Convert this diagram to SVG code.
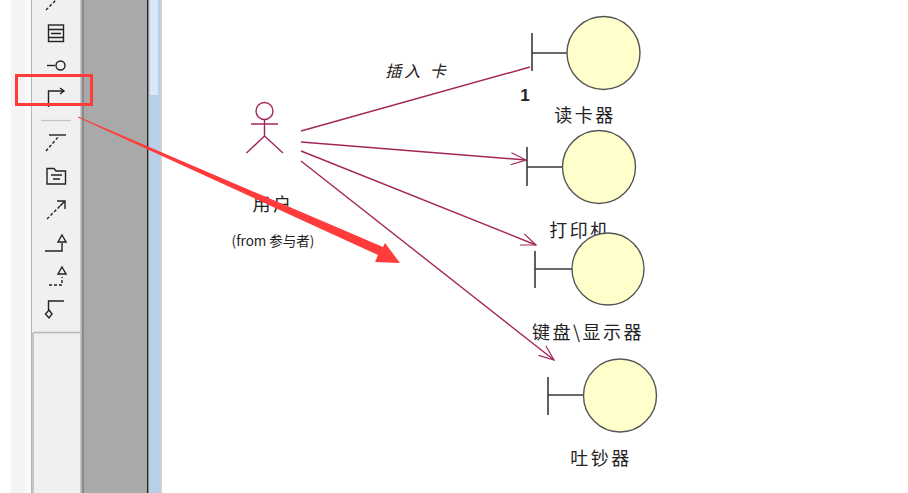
<svg xmlns="http://www.w3.org/2000/svg" width="908" height="493" viewBox="0 0 908 493">
<defs>
<marker id="open" markerWidth="18" markerHeight="14" refX="16" refY="7" orient="auto" markerUnits="userSpaceOnUse"><path d="M1 1 L16 7 L1 13" fill="none" stroke="#a3265a" stroke-width="1.200"/></marker>
</defs>
<style>
.ic{fill:none;stroke:#222;stroke-width:1.400}
.dash{stroke-dasharray:3 2}
.rel{fill:none;stroke:#a3265a;stroke-width:1.400}
.bar{fill:none;stroke:#3a3a3a;stroke-width:1.600}
.ball{fill:#ffffcc;stroke:#555;stroke-width:1.400}
.t{font-family:"Noto Sans CJK SC","Liberation Sans",sans-serif;font-size:18px;fill:#222;letter-spacing:2.500px;text-anchor:middle}
</style>
<rect width="908" height="493" fill="#fff"/>
<g id="window-chrome">
<rect x="11" y="0" width="20" height="493" fill="#f4f4f4"/>
<rect x="25" y="0" width="6" height="493" fill="#fafafa"/>
<rect x="31" y="0" width="50" height="493" fill="#f0f0f0"/>
<path d="M31.500 0V493" stroke="#b5b5b5" fill="none"/>
<rect x="80" y="0" width="1.500" height="493" fill="#c8c8c8"/>
<rect x="81.500" y="0" width="2.500" height="493" fill="#8a8a8a"/>
<rect x="84" y="0" width="63" height="493" fill="#a9a9a9"/>
<rect x="147" y="0" width="1.500" height="493" fill="#222"/>
<rect x="149" y="0" width="11" height="493" fill="#b8cfe8"/>
<rect x="150" y="0" width="8" height="95" fill="#dbe7f4"/>
<rect x="160" y="0" width="2" height="493" fill="#d0d0d0"/>
<path d="M33 332.500H81M33 333V493" stroke="#b5b5b5" stroke-width="1.500" fill="none"/>
<path d="M41 120.500H71" stroke="#c4c4c4" stroke-width="1.200" fill="none"/>
</g>
<g id="toolbar-icons">
<path class="ic dash" d="M46 10L56 0"/>
<rect class="ic" x="48.500" y="25" width="15" height="16.500"/>
<path class="ic" d="M49 29.500H63M51 33.500H61M49 37.500H63" stroke-width="1"/>
<path class="ic" d="M47 65.500H55"/><circle class="ic" cx="60.500" cy="65.500" r="4.500"/>
<path class="ic" d="M48.500 107V91H64M60 88L64 91L60 94"/>
<path class="ic" d="M49 135H66"/><path class="ic dash" d="M46 151L59 136"/>
<path class="ic" d="M47 168.500H54L56 171H65.500V184H47Z"/><path class="ic" d="M51 175H62M53 179H60" stroke-width="1"/>
<path class="ic dash" d="M47 219L62 204"/><path class="ic" d="M57 201H65V209M65 201L60 206"/>
<path class="ic" d="M45 251H62V243"/><path class="ic" d="M62 235L66 242H58Z"/>
<path class="ic dash" d="M49 285H62V277"/><path class="ic" d="M62 267L66 274H58Z"/>
<path class="ic" d="M64 301H48.500V310"/><path class="ic" d="M49 310L52 314L49 318L45.500 314Z"/>
</g>
<g id="connectors">
<path class="rel" d="M301 131L530 67"/>
<path class="rel" marker-end="url(#open)" d="M301 142L526 160"/>
<path class="rel" marker-end="url(#open)" d="M301 151L536 245"/>
<path class="rel" marker-end="url(#open)" d="M301 161L554 360"/>
<text x="417" y="77" class="t" style="font-size:16px;font-style:italic;letter-spacing:3px">插入 卡</text>
<text x="525" y="101" style="font-family:'Liberation Sans',sans-serif;font-size:17px;font-weight:bold;fill:#222;text-anchor:middle">1</text>
</g>
<g id="actor-user">
<circle cx="264.500" cy="111" r="8.500" fill="none" stroke="#a3265a" stroke-width="1.400"/>
<path d="M264.500 120V136M251 124H278M264.500 136L246.500 153M264.500 136L283 153" fill="none" stroke="#a3265a" stroke-width="1.400"/>
<text x="273" y="211" class="t">用户</text>
<text x="273" y="246" style="font-family:'Noto Sans CJK SC','Liberation Sans',sans-serif;font-size:13.500px;fill:#222;text-anchor:middle">(from 参与者)</text>
</g>
<g id="node-reader">
<path class="bar" d="M532 33V71M532 53H567"/><circle class="ball" cx="603.500" cy="53" r="36.500"/>
<text x="585" y="122" class="t">读卡器</text>
</g>
<g id="node-printer">
<path class="bar" d="M527 147V186M527 167H563"/>
<text x="580" y="237" class="t">打印机</text>
<circle class="ball" cx="599" cy="167" r="36.500"/>
</g>
<g id="node-keyboard">
<path class="bar" d="M535 251V288M535 269H572"/><circle class="ball" cx="608" cy="269" r="36"/>
<text x="588" y="339" class="t">键盘\显示器</text>
</g>
<g id="node-dispenser">
<path class="bar" d="M548 377V415M548 395H584"/><circle class="ball" cx="620" cy="395.500" r="36.500"/>
<text x="601" y="465" class="t">吐钞器</text>
</g>
<g id="annotation">
<rect x="16.500" y="75.500" width="75" height="29" fill="none" stroke="#ff3b3b" stroke-width="3"/>
<path d="M78 116.500L383 247L385 243L400 263L375 262L378 255L78 117.500Z" fill="#ff3b3b"/>
</g>
</svg>
